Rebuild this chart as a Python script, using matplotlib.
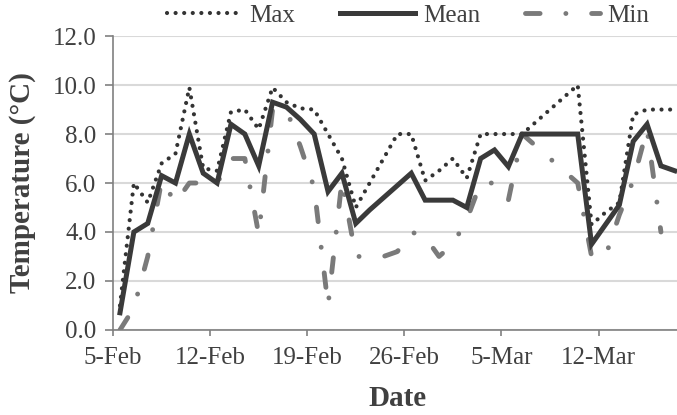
import matplotlib.dates as mdates
import matplotlib.pyplot as plt
import numpy as np
import pandas as pd

# daily values, 5-Feb .. 17-Mar (points sit mid-day like the Excel category axis)
days = pd.date_range("2015-02-05", "2015-03-17", freq="D")

max_t = [1.0, 6.0, 5.2, 6.8, 7.2, 9.9, 6.6, 6.5, 8.9, 9.0,
         8.2, 9.9, 9.3, 9.05, 9.0, 8.0, 7.0, 5.0, 6.0, 7.0,
         8.0, 8.0, 6.1, 6.5, 7.0, 6.2, 8.0, 8.0, 8.0, 8.0,
         8.5, 9.0, 9.5, 10.0, 4.3, 4.8, 5.2, 8.8, 9.0, 9.0,
         9.0]
mean_t = [0.7, 4.0, 4.35, 6.3, 6.0, 8.0, 6.4, 6.0, 8.4, 8.0,
          6.7, 9.3, 9.1, 8.6, 8.0, 5.65, 6.4, 4.35, 4.9, 5.4,
          5.9, 6.4, 5.3, 5.3, 5.3, 5.0, 7.0, 7.35, 6.67, 8.0,
          8.0, 8.0, 8.0, 8.0, 3.5, 4.3, 5.1, 7.7, 8.4, 6.7,
          6.5]
min_t = [0.0, 0.9, 3.0, 6.1, 5.2, 6.0, 6.0, 6.0, 7.0, 7.0,
         3.9, 9.0, 9.0, 7.5, 5.8, 1.0, 6.1, 3.0, 3.0, 3.0,
         3.2, 4.0, 3.8, 3.0, 3.5, 4.5, 6.0, 6.0, 5.3, 8.0,
         7.5, 7.0, 6.5, 6.0, 3.0, 3.0, 4.7, 6.1, 8.2, 4.0,
         np.nan]

tick_dates = pd.date_range("2015-02-05", periods=6, freq="7D")

plt.rcParams["font.family"] = ["Liberation Serif", "DejaVu Serif"]

x = days + pd.Timedelta(hours=12)

fig = plt.figure(figsize=(6.77, 4.15), dpi=100)
ax = fig.add_axes([0.167, 0.205, 0.84, 0.708])

ax.plot(x, max_t, color="#333333", lw=3.0, linestyle=(0, (0.01, 2.05)),
        dash_capstyle="round", label="Max", zorder=3)
ax.plot(x, mean_t, color="#3a3a3a", lw=3.6, solid_joinstyle="miter",
        label="Mean", zorder=4)
ax.plot(x, min_t, color="#7a7a7a", lw=3.5, linestyle=(0, (3.0, 5.3, 0.01, 5.3)),
        dash_capstyle="round", label="Min", zorder=2)

ax.set_xlim(pd.Timestamp("2015-02-05"), pd.Timestamp("2015-03-18"))
ax.set_ylim(0, 12)
ax.set_yticks(np.arange(0, 12.1, 2))
ax.yaxis.set_major_formatter(plt.FormatStrFormatter("%.1f"))
ax.set_xticks(tick_dates)
ax.xaxis.set_major_formatter(mdates.DateFormatter("%-d-%b"))

ax.grid(axis="y", color="#d9d9d9", lw=1.5)
ax.set_axisbelow(True)
for side in ["top", "right"]:
    ax.spines[side].set_visible(False)
for side in ["left", "bottom"]:
    ax.spines[side].set_color("#808080")
    ax.spines[side].set_linewidth(1.2)

ax.tick_params(axis="y", direction="out", length=6, width=1.2, color="#808080",
               labelsize=18, labelcolor="#404040", pad=6)
ax.tick_params(axis="x", direction="out", length=4, width=1.2, color="#808080",
               labelsize=18, labelcolor="#404040", pad=8)

ax.set_xlabel("Date", fontsize=21, fontweight="bold", color="#404040", labelpad=12)
ax.set_ylabel("Temperature (°C)", fontsize=21, fontweight="bold", color="#404040",
              labelpad=12)

fig.legend(loc="center", bbox_to_anchor=(0.603, 0.962), ncol=3, frameon=False,
           fontsize=18, handlelength=3.0, handletextpad=0.3, columnspacing=1.8,
           labelcolor="#404040")

fig.savefig("out.png", dpi=100)
